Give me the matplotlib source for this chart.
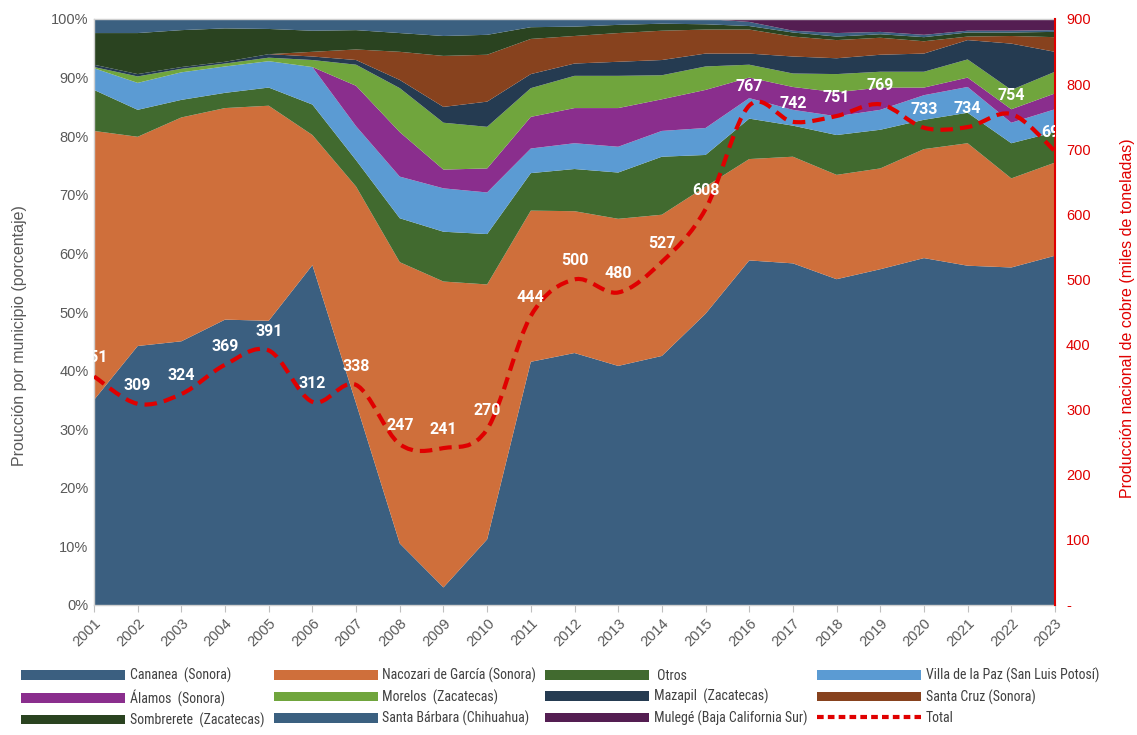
import numpy as np
import matplotlib
matplotlib.use("Agg")
import matplotlib.pyplot as plt
from matplotlib import font_manager
from matplotlib.font_manager import FontProperties
from matplotlib.path import Path
from matplotlib.patches import PathPatch, Patch
from matplotlib.lines import Line2D
from matplotlib.ticker import FuncFormatter, FixedLocator

years = list(range(2001, 2024))

cananea = [35.0, 44.2, 45.0, 48.7, 48.5, 58.0, 34.4, 10.5, 3.0, 11.2, 41.5, 43.0, 40.8, 42.5, 49.7, 58.8, 58.3, 55.6, 57.3, 59.2, 57.9, 57.6, 59.6]
nacozari = [45.9, 35.7, 38.2, 36.1, 36.7, 22.2, 37.0, 48.0, 52.2, 43.5, 25.8, 24.2, 25.1, 24.1, 21.7, 17.3, 18.2, 17.8, 17.2, 18.6, 20.9, 15.2, 15.9]
otros = [7.0, 4.6, 3.0, 2.6, 3.1, 5.2, 4.5, 7.5, 8.5, 8.6, 6.4, 7.2, 7.9, 9.9, 5.4, 6.9, 5.3, 6.8, 6.6, 5.0, 5.2, 6.0, 5.2]
villa_paz = [3.7, 4.6, 4.7, 4.5, 4.5, 6.4, 5.8, 7.1, 7.4, 7.1, 4.2, 4.4, 4.4, 4.4, 4.6, 3.5, 2.7, 3.2, 3.4, 4.2, 4.4, 3.5, 3.9]
alamos = [0.0, 0.0, 0.0, 0.0, 0.0, 0.0, 6.9, 7.6, 3.2, 4.1, 5.4, 6.0, 6.6, 5.4, 6.5, 3.5, 3.9, 4.1, 3.8, 1.3, 1.6, 2.3, 2.7]
morelos = [0.2, 1.1, 0.6, 0.5, 0.6, 1.2, 3.6, 7.5, 8.0, 7.1, 4.9, 5.5, 5.5, 4.1, 4.0, 2.2, 2.3, 3.1, 2.7, 2.7, 3.1, 3.3, 3.7]
mazapil = [0.4, 0.4, 0.3, 0.3, 0.6, 0.6, 0.8, 1.4, 2.7, 4.3, 2.4, 2.1, 2.4, 2.6, 2.2, 1.9, 2.9, 2.7, 2.9, 3.1, 3.3, 7.9, 3.4]
santa_cruz = [0.0, 0.0, 0.0, 0.0, 0.0, 0.8, 1.8, 4.8, 8.7, 8.0, 6.0, 4.7, 4.9, 5.0, 4.1, 4.1, 3.4, 3.1, 2.9, 2.1, 0.6, 1.3, 2.5]
sombrerete = [5.4, 7.0, 6.3, 5.7, 4.3, 3.6, 3.3, 3.2, 3.4, 3.4, 2.0, 1.6, 1.4, 1.2, 0.9, 0.6, 0.7, 0.6, 0.6, 0.7, 0.7, 0.6, 0.9]
santa_barbara = [2.4, 2.4, 1.9, 1.6, 1.7, 2.0, 1.9, 2.4, 2.9, 2.7, 1.4, 1.3, 1.0, 0.8, 0.9, 0.7, 0.3, 0.6, 0.4, 0.4, 0.3, 0.3, 0.3]
mulege = [0.0, 0.0, 0.0, 0.0, 0.0, 0.0, 0.0, 0.0, 0.0, 0.0, 0.0, 0.0, 0.0, 0.0, 0.0, 0.5, 2.0, 2.4, 2.2, 2.7, 2.0, 2.0, 1.9]

total = [351, 309, 324, 369, 391, 312, 338, 247, 241, 270, 444, 500, 480, 527, 608, 767, 742, 751, 769, 733, 734, 754, 697]

series_names = ["Cananea  (Sonora)", "Nacozari de García (Sonora)", " Otros",
                "Villa de la Paz (San Luis Potosí)", "Álamos  (Sonora)", "Morelos  (Zacatecas)",
                "Mazapil  (Zacatecas)", "Santa Cruz (Sonora)", "Sombrerete  (Zacatecas)",
                "Santa Bárbara (Chihuahua)", "Mulegé (Baja California Sur)"]
series_colors = ["#3B5F80", "#CF6F3B", "#416A2F", "#5B9BD3", "#8A2E8D", "#70A53D",
                 "#253B51", "#87421E", "#2A4320", "#3B6080", "#541E52"]
total_name = "Total"

names = {f.name for f in font_manager.fontManager.ttflist}
base_font = "Liberation Sans" if "Liberation Sans" in names else "DejaVu Sans"
label_font = "Roboto" if "Roboto" in names else "DejaVu Sans"

# find a narrow / condensed regular face for the legend
legend_prop = None
pref = ["liberationsansnarrow-regular", "robotocondensed-regular", "opensans_condensed",
        "dejavusanscondensed.ttf"]
files = [f.fname for f in font_manager.fontManager.ttflist]
for key in pref:
    hit = [p for p in files if key in p.lower().replace(" ", "").replace("_", "")
           or key in p.lower()]
    if hit:
        legend_prop = FontProperties(fname=hit[0])
        break
if legend_prop is None:
    legend_prop = FontProperties(family=base_font)
narrow = "narrow" in str(legend_prop.get_file()).lower() if legend_prop.get_file() else False
legend_prop.set_size(10.5 if narrow else 10.0)

plt.rcParams["font.family"] = [base_font, "DejaVu Sans"]

gray = "#595959"
red = "#E00000"

fig = plt.figure(figsize=(11.37, 7.35), dpi=100)
ax = fig.add_axes([94 / 1137, 1 - 605 / 735, (1055 - 94) / 1137, (605 - 19) / 735])

data = np.array([cananea, nacozari, otros, villa_paz, alamos, morelos, mazapil,
                 santa_cruz, sombrerete, santa_barbara, mulege])
shares = data / data.sum(axis=0) * 100
ax.stackplot(years, shares, colors=series_colors, linewidth=0)

ax.set_xlim(years[0], years[-1])
ax.set_ylim(0, 100)
ax.yaxis.set_major_locator(FixedLocator(np.arange(0, 101, 10)))
ax.yaxis.set_major_formatter(FuncFormatter(lambda v, p: f"{int(round(v))}%"))
ax.set_xticks(years)
ax.set_xticklabels([str(y) for y in years], rotation=45, ha="right", rotation_mode="anchor")
ax.tick_params(axis="x", colors="#BFBFBF", labelcolor=gray, labelsize=10.5, length=5, pad=3)
ax.tick_params(axis="y", length=0, labelcolor=gray, labelsize=10.5, pad=4)
for s in ["left", "top", "bottom"]:
    ax.spines[s].set_color("#D0D0D0")
    ax.spines[s].set_linewidth(1.0)
ax.spines["right"].set_visible(False)
ax.set_ylabel("Proucción por municipio (porcentaje)", color=gray, fontsize=11.5)
ax.yaxis.set_label_coords(-0.07, 0.46)

ax2 = ax.twinx()
ax2.set_ylim(0, 900)
ax2.yaxis.set_major_locator(FixedLocator(np.arange(0, 901, 100)))
ax2.yaxis.set_major_formatter(FuncFormatter(lambda v, p: "-" if v == 0 else f"{int(v)}"))
ax2.tick_params(axis="y", length=0, labelcolor=red, labelsize=10.5, pad=8)
for s in ["left", "top", "bottom"]:
    ax2.spines[s].set_visible(False)
ax2.spines["right"].set_color(red)
ax2.spines["right"].set_linewidth(1.5)
ax2.set_ylabel("Producción nacional de cobre (miles de toneladas)", color=red, fontsize=11.5,
               rotation=90)
ax2.yaxis.set_label_coords(1.068, 0.49)

# smoothed dashed total line (Bezier through the data points)
xs = np.array(years, dtype=float)
ys = np.array(total, dtype=float)
verts = [(xs[0], ys[0])]
codes = [Path.MOVETO]
n = len(xs)
for i in range(n - 1):
    p0 = np.array([xs[max(i - 1, 0)], ys[max(i - 1, 0)]])
    p1 = np.array([xs[i], ys[i]])
    p2 = np.array([xs[i + 1], ys[i + 1]])
    p3 = np.array([xs[min(i + 2, n - 1)], ys[min(i + 2, n - 1)]])
    c1 = p1 + (p2 - p0) / 6.0
    c2 = p2 - (p3 - p1) / 6.0
    verts += [tuple(c1), tuple(c2), tuple(p2)]
    codes += [Path.CURVE4, Path.CURVE4, Path.CURVE4]
path = Path(verts, codes)
patch = PathPatch(path, facecolor="none", edgecolor=red, linewidth=3.0,
                  linestyle=(0, (3.0, 1.7)), zorder=5)
ax2.add_patch(patch)

for x, y in zip(years, total):
    ax2.annotate(str(y), (x, y), xytext=(0, 8), textcoords="offset points",
                 ha="center", va="bottom", color="white", fontsize=11.5,
                 fontweight="bold", family=label_font, clip_on=True, zorder=6,
                 annotation_clip=False)

# legend in row-major order
handles = [Patch(facecolor=c, edgecolor="none") for c in series_colors]
handles.append(Line2D([0], [0], color=red, linewidth=3.0, linestyle=(0, (1.6, 1.0))))
labels = series_names + [total_name]
order = [0, 4, 8, 1, 5, 9, 2, 6, 10, 3, 7, 11]
fs_px = legend_prop.get_size() * 100 / 72
leg = fig.legend([handles[i] for i in order], [labels[i] for i in order],
                 ncol=4, loc="upper left", bbox_to_anchor=(21 / 1137, 1 - 668 / 735),
                 frameon=False, handlelength=104 / fs_px, handleheight=0.7,
                 handletextpad=5 / fs_px, columnspacing=9 / fs_px,
                 labelspacing=(22 - fs_px * 1.15) / fs_px,
                 borderpad=0, borderaxespad=0, prop=legend_prop)
for t in leg.get_texts():
    t.set_color("#404040")

fig.savefig("out.png", dpi=100)
